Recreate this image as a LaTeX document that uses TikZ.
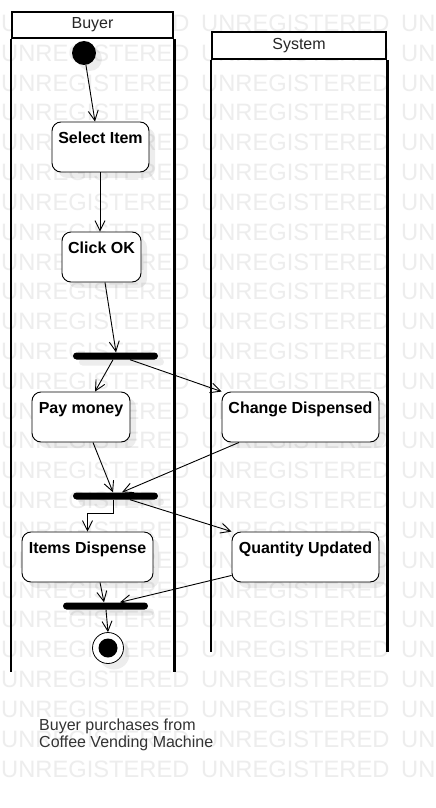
\documentclass[tikz,border=0pt]{standalone}
\usepackage{fontspec}
\setmainfont{Liberation Sans}
\usetikzlibrary{arrows.meta,shadows,calc}
\begin{document}
\begin{tikzpicture}[x=1pt,y=-1pt,
  shad/.style={drop shadow={shadow xshift=6pt,shadow yshift=-6pt,opacity=0.07,fill=black}},
  act/.style={draw, line width=0.9pt, rounded corners=9pt, fill=white, shad, inner xsep=0pt, inner ysep=10pt, text height=11.5pt, text depth=18.5pt, font=\fontsize{16}{19}\selectfont\bfseries},
  bar/.style={fill=black, rounded corners=3.5pt, minimum width=85pt, minimum height=7pt, inner sep=0pt, shad},
  arr/.style={line width=0.9pt, -{Straight Barb[length=10pt,width=10pt]}},
  lanehead/.style={draw, line width=2.5pt, fill=white, inner sep=0pt, font=\fontsize{16}{19}\selectfont, text=black!85},
  lane/.style={line width=2.5pt},
  wm/.style={anchor=base west, inner sep=0pt, font=\fontsize{23.7}{28}\selectfont, text=black!7}
]
\useasboundingbox (0,0) rectangle (436,808);
\fill[white] (0,0) rectangle (436,808);
% watermark
\foreach \k in {0,...,25}{
  \node[wm] (wma\k) at (1, {31.5+29.82*\k}) {UNREGISTERED};
  \node[wm] (wmb\k) at (201, {31.5+29.82*\k}) {UNREGISTERED};
  \node[wm] (wmc\k) at (401, {31.5+29.82*\k}) {UN};
}
% lanes
\coordinate (bbot) at (0,672);
\coordinate (sbot) at (0,652);
\node[lanehead, minimum width=161pt, minimum height=26pt] (buyer) at (92.5,25) {Buyer};
\node[lanehead, minimum width=174pt, minimum height=27pt] (system) at (299,45.5) {System};
\draw[lane] (buyer.south west) -- (buyer.south west |- bbot);
\draw[lane] (buyer.south east) -- (buyer.south east |- bbot);
\draw[lane] (system.south west) -- (system.south west |- sbot);
\draw[lane] (system.south east) -- (system.south east |- sbot);
% nodes
\node[circle, fill=black, minimum size=24pt, inner sep=0pt, shad] (init) at (84,53) {};
\node[act, minimum width=97pt] (sel) at (100.5,147) {Select Item};
\node[act, minimum width=79pt] (click) at (101.5,257) {Click OK};
\node[bar] (bar1) at (115.5,356) {};
\node[act, minimum width=98pt] (pay) at (81,417) {Pay money};
\node[act, minimum width=157pt] (chg) at (300.5,417) {Change Dispensed};
\node[bar] (bar2) at (115.5,496) {};
\node[act, minimum width=131pt] (items) at (87.5,557) {Items Dispense};
\node[act, minimum width=147pt] (qty) at (305.5,557) {Quantity Updated};
\node[bar] (bar3) at (105.5,606) {};
\node[circle, draw, line width=0.8pt, fill=white, minimum size=31pt, inner sep=0pt, shad] (fin) at (108,648) {};
\node[circle, fill=black, minimum size=19pt, inner sep=0pt] (fincore) at (fin) {};
% connectors
\draw[arr] (init) -- ([xshift=-5.5pt]sel.north);
\draw[arr] ([xshift=-0.5pt]sel.south) -- ([xshift=-1.5pt]click.north);
\draw[arr] ([xshift=3.5pt]click.south) -- ([xshift=0.5pt]bar1.north);
\draw[arr] ([xshift=-2.5pt]bar1.south) -- ([xshift=14pt]pay.north);
\draw[arr] ([xshift=14.5pt]bar1.south) -- (chg.north west);
\draw[arr] ([xshift=12pt]pay.south) -- ([xshift=-2.5pt]bar2.north);
\draw[arr] ([xshift=-61.5pt]chg.south) -- ([xshift=6.5pt]bar2.north);
\draw[arr] ([xshift=-2.5pt]bar2.south) -- ++(0,14) -| (items.north);
\draw[arr] ([xshift=14.5pt]bar2.south) -- (qty.north west);
\draw[arr] ([xshift=12.5pt]items.south) -- ([xshift=-1.5pt]bar3.north);
\draw[arr] ([yshift=7pt]qty.south west) -- ([xshift=14.5pt]bar3.north);
\draw[arr] ([xshift=0.5pt]bar3.south) -- (fin.north);
% caption
\node[anchor=north west, inner sep=0pt, align=left, font=\fontsize{16}{17}\selectfont, text=black!80] (cap) at (39,719) {Buyer purchases from\\Coffee Vending Machine};
\end{tikzpicture}
\end{document}
